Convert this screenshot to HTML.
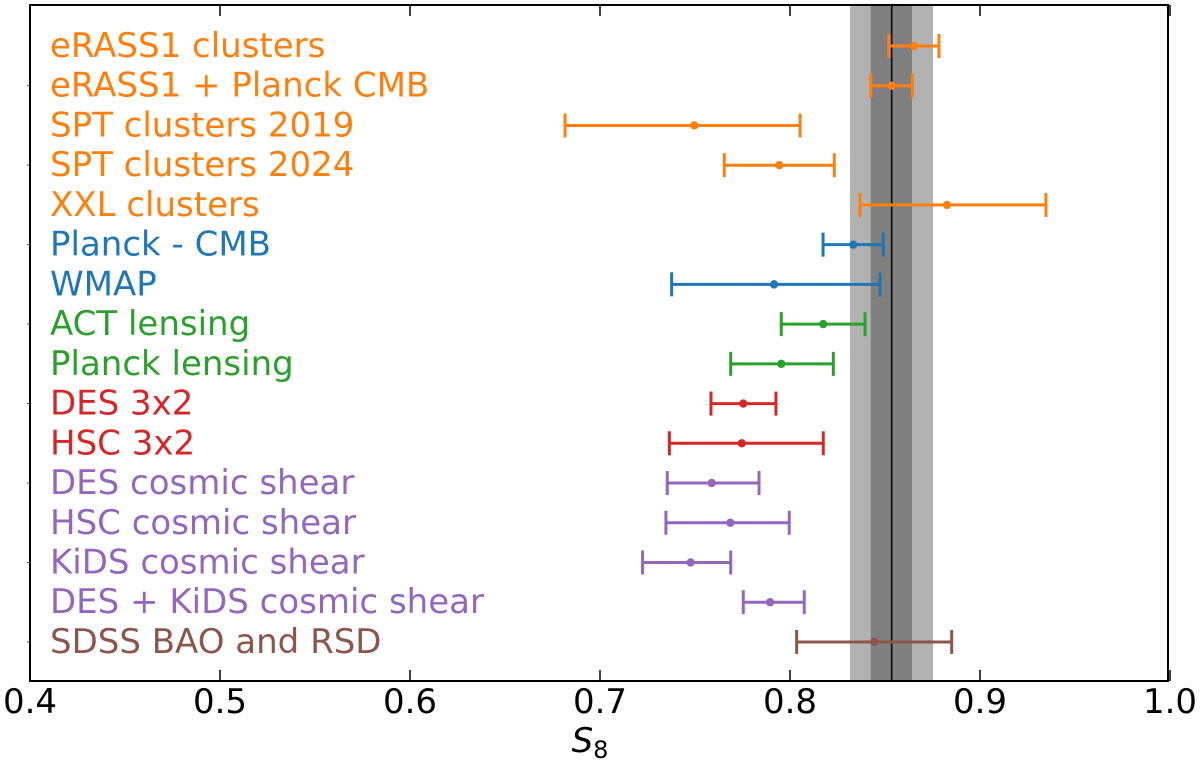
<!DOCTYPE html>
<html><head><meta charset="utf-8"><style>
html,body{margin:0;padding:0;background:#fff;}
svg{display:block;font-family:"DejaVu Sans","Liberation Sans",sans-serif;}
</style></head><body>
<svg id="chart" width="1200" height="765" viewBox="0 0 1200 765" xmlns="http://www.w3.org/2000/svg">
<g id="bands"></g>
<g id="marks"></g>
<g id="labels"></g>
<g id="axes"></g>
</svg>
<script>
const labels = ["eRASS1 clusters","eRASS1 + Planck CMB","SPT clusters 2019","SPT clusters 2024","XXL clusters","Planck - CMB","WMAP","ACT lensing","Planck lensing","DES 3x2","HSC 3x2","DES cosmic shear","HSC cosmic shear","KiDS cosmic shear","DES + KiDS cosmic shear","SDSS BAO and RSD"];
const groups = ["cl","cl","cl","cl","cl","cmb","cmb","lens","lens","x32","x32","cs","cs","cs","cs","bao"];
const centers = [0.8654,0.8535,0.7496,0.7944,0.8826,0.8333,0.7916,0.8175,0.7954,0.7754,0.7746,0.7588,0.7686,0.7477,0.7895,0.8444];
const lows = [0.8521,0.8425,0.6816,0.7654,0.8368,0.8174,0.7377,0.7954,0.7688,0.7584,0.7365,0.7354,0.7347,0.7224,0.7754,0.8035];
const highs = [0.8784,0.8644,0.8053,0.8233,0.9347,0.8491,0.8474,0.8395,0.8228,0.7926,0.8175,0.7837,0.7996,0.7688,0.8075,0.8851];
const bandCenter = 0.8535;
const bandInner = [0.8425,0.8642];
const bandOuter = [0.8316,0.8753];
const xTicks = [0.4,0.5,0.6,0.7,0.8,0.9,1.0];
const xTickLabels = ["0.4","0.5","0.6","0.7","0.8","0.9","1.0"];
const colors = {cl:"#ff7f0e",cmb:"#1f77b4",lens:"#2ca02c",x32:"#d62728",cs:"#9467bd",bao:"#8c564b"};

const L=30,R=1168,T=5,B=681;
const xs = v => 30 + (v-0.4)*1900;
const ys = i => 46 + i*39.73;
const NS="http://www.w3.org/2000/svg";
function mk(tag, attrs, parent){const e=document.createElementNS(NS,tag);for(const k in attrs)e.setAttribute(k,attrs[k]);parent.appendChild(e);return e;}

const bands=document.getElementById('bands');
let e=mk('rect',{x:xs(bandOuter[0]),y:T,width:xs(bandOuter[1])-xs(bandOuter[0]),height:B-T,fill:'#b2b2b2'},bands);


e=mk('rect',{x:xs(bandInner[0]),y:T,width:xs(bandInner[1])-xs(bandInner[0]),height:B-T,fill:'#7f7f7f'},bands);


e=mk('line',{x1:xs(bandCenter),x2:xs(bandCenter),y1:T,y2:B,stroke:'#000','stroke-width':1.5},bands);



const marks=document.getElementById('marks'), lab=document.getElementById('labels');
labels.forEach((name,i)=>{
  const c=colors[groups[i]], y=ys(i);
  const g=mk('g',{stroke:c,'stroke-width':3,fill:c},marks);
  
  
  mk('line',{x1:xs(lows[i]),x2:xs(highs[i]),y1:y,y2:y},g);
  mk('line',{x1:xs(lows[i]),x2:xs(lows[i]),y1:y-12,y2:y+12},g);
  mk('line',{x1:xs(highs[i]),x2:xs(highs[i]),y1:y-12,y2:y+12},g);
  mk('circle',{cx:xs(centers[i]),cy:y,r:4.2,stroke:'none'},g);
  const t=mk('text',{x:50,y:y+11,fill:c,'font-size':34},lab);
  t.textContent=name;
  
  
});

const axes=document.getElementById('axes');
e=mk('rect',{x:L,y:T,width:R-L,height:B-T,fill:'none',stroke:'#000','stroke-width':2},axes);


xTicks.forEach((v,i)=>{
  mk('line',{x1:xs(v),x2:xs(v),y1:B,y2:B-11,stroke:'#000','stroke-width':1.5},axes);
  mk('line',{x1:xs(v),x2:xs(v),y1:T,y2:T+11,stroke:'#000','stroke-width':1.5},axes);
  const t=mk('text',{x:xs(v),y:713,'text-anchor':'middle','font-size':34,fill:'#000'},axes);
  t.textContent=xTickLabels[i];
  
  
});
for(let i=1;i<labels.length;i+=2){
  mk('line',{x1:L-3,x2:L,y1:ys(i),y2:ys(i),stroke:'#555','stroke-width':1},axes);
}
const xt=mk('text',{x:590,y:752,'text-anchor':'middle','font-size':34,fill:'#000'},axes);


const s1=mk('tspan',{'font-style':'italic'},xt); s1.textContent='S';
const s2=mk('tspan',{'font-size':24,dy:6},xt); s2.textContent='8';
</script>
</body></html>
